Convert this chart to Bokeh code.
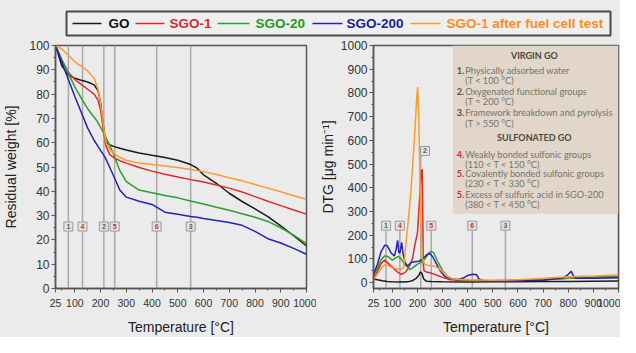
from bokeh.plotting import figure
from bokeh.layouts import column, row
from bokeh.models import Range1d, FixedTicker, BoxAnnotation
from bokeh.core.properties import value
from bokeh.embed import file_html
from bokeh.resources import INLINE

# ---------------- data ----------------
series_names = ["GO", "SGO-1", "SGO-20", "SGO-200", "SGO-1 after fuel cell test"]
series_colors = ["#1a1a1a", "#e02a2a", "#2ca02c", "#2222b4", "#ff9a2e"]
legend_text_colors = ["#111111", "#d42a3a", "#1f9a1f", "#1c1c9c", "#ff8c1a"]

x_ticks = [25, 100, 200, 300, 400, 500, 600, 700, 800, 900, 1000]
x_minor = [50, 150, 250, 350, 450, 550, 650, 750, 850, 950]

tga_T = [25, 50, 75, 100, 125, 150, 175, 190, 200, 210, 220, 235, 250, 275, 300,
         350, 400, 450, 500, 550, 575, 600, 650, 700, 750, 800, 850, 900, 950, 1000]
tga_go = [100, 91.5, 87.8, 86.5, 85.7, 85.0, 83.8, 81.5, 76.5, 67.5,
          60.5, 59.2, 58.5, 57.7, 57.0, 55.8, 54.8, 53.9, 52.8, 51.0,
          49.5, 46.8, 43.3, 39.2, 35.8, 32.8, 29.6, 25.8, 21.7, 17.5]
tga_sgo1 = [100, 94, 89, 86, 84, 82, 80, 77.5, 73.5, 66,
            59, 55.2, 53.9, 52.6, 51.6, 49.8, 48.3, 47.0, 45.9, 44.8,
            44.3, 43.8, 42.6, 41.3, 39.7, 37.8, 35.9, 34.1, 32.3, 30.6]
tga_sgo20 = [100, 94, 88.5, 83, 78.3, 74, 70.5, 68.3, 66.3, 64.5,
             62.3, 59, 55.5, 48.5, 44, 40.5, 39.4, 38.3, 37.3, 36,
             35.4, 34.8, 33.4, 32.2, 30.8, 29.3, 27.6, 25, 22, 18.5]
tga_sgo200 = [100, 93, 86, 79, 72.5, 66, 61, 58.5, 56.8, 55.3,
              53.5, 50, 46.5, 40.5, 37.6, 35.9, 34.6, 31.4, 30.6, 29.6,
              29.3, 28.8, 28, 27.2, 26, 23.5, 20.5, 18.7, 16.5, 14.1]
tga_fc = [100, 98.5, 96, 93.3, 91.5, 89.5, 86.5, 82, 76, 68,
          60.5, 57.3, 55.7, 54, 52.8, 51.6, 51, 50.4, 49.8, 49,
          48.6, 48.1, 46.9, 45.6, 44.3, 42.8, 41.3, 39.8, 38.2, 36.7]

dtg_go_T = [25, 40, 60, 80, 100, 130, 160, 180, 195, 205, 212, 218, 225, 235, 260,
            300, 400, 500, 600, 700, 800, 900, 1000]
dtg_go = [15, 12, 8, 5, 3, 2, 3, 8, 18, 30, 45, 38, 15, 6, 4, 3, 2, 3, 3, 4, 5, 6, 7]

dtg_sgo1_T = [25, 40, 55, 70, 85, 100, 120, 135, 150, 160, 170, 180, 190, 200, 207, 212,
              216, 219, 221, 223, 226, 235, 255, 280, 300, 330, 400, 500, 600, 700, 800, 900, 1000]
dtg_sgo1 = [20, 45, 80, 95, 80, 65, 45, 35, 42, 55, 75, 100, 160, 210, 330, 420,
            470, 478, 300, 80, 50, 45, 40, 30, 22, 12, 9, 8, 9, 12, 18, 20, 22]

dtg_sgo20_T = [25, 40, 55, 70, 85, 100, 115, 125, 135, 150, 170, 185, 200, 215, 230,
               245, 255, 265, 280, 300, 320, 340, 400, 500, 600, 700, 800, 900, 1000]
dtg_sgo20 = [30, 60, 95, 113, 108, 95, 105, 110, 100, 75, 55, 65, 78, 85, 100,
             125, 132, 125, 90, 50, 25, 15, 10, 8, 9, 12, 18, 22, 28]

dtg_sgo200_T = [25, 40, 55, 70, 80, 95, 108, 115, 121, 126, 131, 137, 143, 150, 160,
                175, 190, 205, 215, 225, 240, 250, 260, 275, 290, 310, 335, 360, 385, 400,
                420, 435, 445, 460, 500, 600, 700, 780, 800, 812, 820, 830, 900, 1000]
dtg_sgo200 = [35, 75, 130, 158, 155, 125, 112, 140, 178, 125, 128, 170, 120, 85, 70,
              85, 88, 90, 95, 105, 120, 122, 110, 80, 50, 25, 15, 12, 20, 30,
              35, 33, 15, 8, 7, 8, 10, 20, 35, 48, 30, 18, 18, 20]

dtg_fc_T = [25, 40, 55, 70, 85, 100, 120, 135, 145, 155, 165, 175, 185, 192, 197, 201,
            205, 210, 215, 220, 230, 245, 265, 285, 300, 320, 340, 400, 500, 600, 700, 800, 900, 1000]
dtg_fc = [12, 35, 60, 75, 72, 62, 58, 55, 65, 170, 280, 400, 560, 680, 780, 825,
          700, 420, 200, 100, 75, 72, 70, 60, 45, 25, 15, 12, 10, 12, 18, 25, 28, 32]

marker_labels = ["1", "4", "2", "5", "6", "3"]
marker_T = [75, 130, 213, 255, 418, 550]
marker_colors = ["#5c5c4a", "#cc2e3e", "#5c5c4a", "#cc2e3e", "#cc2e3e", "#5c5c4a"]

info_numbers = ["1.", "2.", "3.", "4.", "5.", "5."]
info_number_colors = ["#55554a", "#55554a", "#55554a", "#cc2e3e", "#cc2e3e", "#cc2e3e"]
info_titles = ["Physically adsorbed water", "Oxygenated functional groups",
               "Framework breakdown and pyrolysis", "Weakly bonded sulfonic groups",
               "Covalently bonded sulfonic groups", "Excess of sulfuric acid in SGO-200"]
info_ranges = ["(T < 100 °C)", "(T ≈ 200 °C)", "(T > 550 °C)", "(110 < T < 150 °C)",
               "(230 < T < 330 °C)", "(380 < T < 450 °C)"]
info_headers = ["VIRGIN GO", "SULFONATED GO"]

# ---------------- styling ----------------
BG = "#ebebeb"
AX = "#555555"
FONT = "Liberation Sans"


def style(p, yticks, yminor, ylabel, ylab_standoff):
    p.background_fill_color = BG
    p.border_fill_color = BG
    p.outline_line_color = AX
    p.outline_line_width = 1.5
    p.grid.visible = False
    p.xaxis.ticker = FixedTicker(ticks=x_ticks, minor_ticks=x_minor)
    p.yaxis.ticker = FixedTicker(ticks=yticks, minor_ticks=yminor)
    for ax in (p.xaxis[0], p.yaxis[0]):
        ax.axis_line_color = AX
        ax.axis_line_width = 1.5
        ax.major_tick_line_color = AX
        ax.minor_tick_line_color = AX
        ax.major_tick_in = 0
        ax.major_tick_out = 4
        ax.minor_tick_in = 0
        ax.minor_tick_out = 2
        ax.major_label_text_font = FONT
        ax.major_label_text_color = "#333333"
        ax.axis_label_text_font = FONT
        ax.axis_label_text_font_size = "14px"
        ax.axis_label_text_font_style = "normal"
        ax.axis_label_text_color = "#222222"
    p.xaxis.major_label_text_font_size = "10.5px"
    p.yaxis.major_label_text_font_size = "12px"
    p.xaxis.major_label_standoff = 6
    p.yaxis.major_label_standoff = 2
    p.xaxis.axis_label = "Temperature [°C]"
    p.xaxis.axis_label_standoff = 9
    p.yaxis.axis_label = ylabel
    p.yaxis.axis_label_standoff = ylab_standoff


# ---------------- legend strip ----------------
LW, LH = 620, 37
leg = figure(width=LW, height=LH, x_range=Range1d(0, LW), y_range=Range1d(0, LH),
             toolbar_location=None, output_backend="svg", min_border=0)
leg.axis.visible = False
leg.grid.visible = False
leg.outline_line_color = None
leg.background_fill_color = BG
leg.border_fill_color = BG
leg.quad(left=[66], right=[610], bottom=[2], top=[26], fill_color="#efefef",
         line_color="#4a4a4a", line_width=2)
leg_line_x0 = [72, 135, 217, 312, 410]
leg_line_x1 = [101, 164, 249, 342, 440]
leg_text_x = [108, 169, 255, 346, 446]
leg.segment(x0=leg_line_x0, y0=[14] * 5, x1=leg_line_x1, y1=[14] * 5,
            line_color=series_colors, line_width=1.5)
leg.text(x=leg_text_x, y=[14] * 5, text=series_names, text_color=legend_text_colors,
         text_font=value(FONT), text_font_style="bold", text_font_size="13.5px",
         text_baseline="middle", text_align="left")

# ---------------- TGA (left) ----------------
p1 = figure(width=316, height=300, x_range=Range1d(25, 1000), y_range=Range1d(0, 100),
            toolbar_location=None, output_backend="svg",
            min_border_left=51, min_border_right=10, min_border_top=8, min_border_bottom=49)
style(p1, list(range(0, 101, 10)), list(range(5, 100, 10)), "Residual weight [%]", 7)
p1.segment(x0=marker_T, y0=[0] * 6, x1=marker_T, y1=[100] * 6,
           line_color="#a9a9a9", line_width=1.5)
for vals, col in zip([tga_go, tga_sgo1, tga_sgo20, tga_sgo200, tga_fc], series_colors):
    p1.line(tga_T, vals, line_color=col, line_width=1.5)
p1.rect(x=marker_T, y=[25.5] * 6, width=9, height=9, width_units="screen",
        height_units="screen", fill_color="#e2e2e2", line_color="#9a9a9a", line_width=1)
p1.text(x=marker_T, y=[25.5] * 6, text=marker_labels, text_color=marker_colors,
        text_font=value(FONT), text_font_style="bold", text_font_size="7px",
        text_align="center", text_baseline="middle")

# ---------------- DTG (right) ----------------
p2 = figure(width=304, height=300, x_range=Range1d(25, 1000), y_range=Range1d(-25, 1000),
            toolbar_location=None, output_backend="svg",
            min_border_left=52, min_border_right=2, min_border_top=8, min_border_bottom=49)
style(p2, list(range(0, 1001, 100)), list(range(50, 1000, 100)), "DTG [μg min⁻¹]", 2)
p2.add_layout(BoxAnnotation(left=341, right=1000, bottom=290, top=1000,
                            fill_color="#e1d6c9", fill_alpha=1.0, line_color=None,
                            level="underlay"))
box_y = [240, 240, 555, 240, 240, 240]
box_x = [75, 130, 230, 255, 418, 550]
p2.segment(x0=marker_T, y0=[-25] * 6, x1=marker_T, y1=[y - 19 for y in box_y],
           line_color="#a9a9a9", line_width=1.5)
for Ts, vals, col in zip([dtg_go_T, dtg_sgo1_T, dtg_sgo20_T, dtg_sgo200_T, dtg_fc_T],
                         [dtg_go, dtg_sgo1, dtg_sgo20, dtg_sgo200, dtg_fc], series_colors):
    p2.line(Ts, vals, line_color=col, line_width=1.5)
p2.rect(x=box_x, y=box_y, width=9, height=9, width_units="screen",
        height_units="screen", fill_color="#e2e2e2", line_color="#9a9a9a", line_width=1)
p2.text(x=box_x, y=box_y, text=marker_labels, text_color=marker_colors,
        text_font=value(FONT), text_font_style="bold", text_font_size="7px",
        text_align="center", text_baseline="middle")

# info text block
IF = "Lato"
head_y = [958, 614]
p2.text(x=[665, 665], y=head_y, text=info_headers, text_color="#4a4a3e",
        text_font=value(IF), text_font_style="bold", text_font_size="9px",
        text_align="center", text_baseline="middle")
title_y = [895, 807, 719, 542, 458, 370]
range_y = [853, 765, 672, 500, 416, 328]
p2.text(x=[356] * 6, y=title_y, text=info_numbers, text_color=info_number_colors,
        text_font=value(IF), text_font_style="bold", text_font_size="9.2px",
        text_align="left", text_baseline="middle")
p2.text(x=[390] * 6, y=title_y, text=info_titles, text_color="#74746a",
        text_font=value(IF), text_font_size="9.2px",
        text_align="left", text_baseline="middle")
p2.text(x=[390] * 6, y=range_y, text=info_ranges, text_color="#74746a",
        text_font=value(IF), text_font_size="9.2px",
        text_align="left", text_baseline="middle")

layout = column(leg, row(p1, p2, spacing=0), spacing=0)
layout.styles = {"background-color": BG}
open("out.html", "w").write(file_html(layout, INLINE, "TGA DTG"))
